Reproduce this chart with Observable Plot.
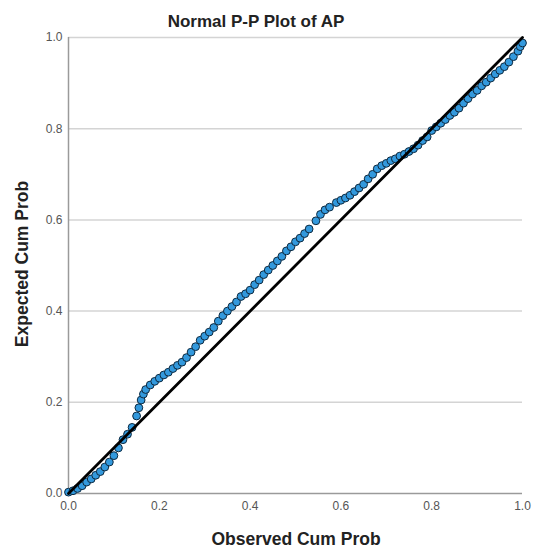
<!DOCTYPE html>
<html><head><meta charset="utf-8">
<script src="https://cdn.jsdelivr.net/npm/d3@7"></script>
<script src="https://cdn.jsdelivr.net/npm/@observablehq/plot@0.6"></script>
<style>body{margin:0;background:#fff;} svg{display:block}</style>
</head><body><div id="chart"></div>
<script>
const titleText = "Normal P-P Plot of AP";
const xLabel = "Observed Cum Prob";
const yLabel = "Expected Cum Prob";
const xTicks = [0, 0.2, 0.4, 0.6, 0.8, 1.0];
const yTicks = [0, 0.2, 0.4, 0.6, 0.8, 1.0];
const refLine = [0, 1];
const observed = [
 0.000,0.010,0.020,0.030,0.040,0.050,0.060,0.070,0.080,0.090,
 0.100,0.110,0.120,0.130,0.140,0.150,0.155,0.160,0.165,0.170,
 0.180,0.190,0.200,0.210,0.220,0.230,0.240,0.250,0.260,0.270,
 0.280,0.290,0.300,0.310,0.320,0.330,0.340,0.350,0.360,0.370,
 0.380,0.390,0.400,0.410,0.420,0.430,0.440,0.450,0.460,0.470,
 0.480,0.490,0.500,0.510,0.520,0.530,0.545,0.555,0.565,0.575,
 0.590,0.600,0.610,0.620,0.630,0.640,0.650,0.660,0.670,0.680,
 0.690,0.700,0.710,0.720,0.730,0.740,0.750,0.760,0.770,0.780,
 0.790,0.800,0.810,0.820,0.830,0.840,0.850,0.860,0.870,0.880,
 0.890,0.900,0.910,0.920,0.930,0.940,0.950,0.960,0.970,0.980,
 0.990,0.995,1.000
];
const expected = [
 0.003,0.006,0.011,0.017,0.025,0.032,0.040,0.048,0.058,0.069,
 0.083,0.100,0.118,0.130,0.145,0.170,0.188,0.205,0.218,0.228,
 0.238,0.246,0.253,0.260,0.266,0.274,0.281,0.288,0.298,0.310,
 0.322,0.336,0.345,0.354,0.364,0.378,0.390,0.400,0.410,0.420,
 0.432,0.438,0.446,0.458,0.468,0.480,0.490,0.500,0.510,0.520,
 0.532,0.541,0.552,0.560,0.570,0.580,0.598,0.612,0.622,0.628,
 0.638,0.643,0.648,0.654,0.662,0.670,0.678,0.690,0.700,0.712,
 0.719,0.724,0.730,0.734,0.740,0.744,0.750,0.756,0.764,0.774,
 0.782,0.796,0.804,0.812,0.820,0.829,0.836,0.845,0.856,0.866,
 0.876,0.884,0.894,0.902,0.911,0.920,0.928,0.936,0.946,0.958,
 0.970,0.980,0.988
];
const points = observed.map((x, i) => ({x, y: expected[i]}));
const diag = refLine.map(v => ({x: v, y: v}));
const fmt = d3.format(".1f");

const plot = Plot.plot({
  width: 535, height: 549,
  marginLeft: 68, marginRight: 13, marginTop: 37, marginBottom: 56,
  style: {fontFamily: "'Liberation Sans', Arial, sans-serif", fontSize: "12px", color: "#555", background: "#fff"},
  x: {domain: [0, 1]},
  y: {domain: [0, 1]},
  marks: [
    Plot.gridY(yTicks.filter(d => d > 0), {stroke: "#d4d4d4", strokeOpacity: 1, strokeWidth: 1.5}),
    Plot.axisY(yTicks, {tickFormat: fmt, tickSize: 0, tickPadding: 6, label: null, fill: "#555"}),
    Plot.axisX(xTicks, {tickFormat: fmt, tickSize: 0, tickPadding: 8, label: null, fill: "#555"}),
    Plot.ruleX([0], {stroke: "#9a9a9a", strokeWidth: 1.5}),
    Plot.ruleY([0], {stroke: "#9a9a9a", strokeWidth: 1.5}),
    Plot.dot(points, {x: "x", y: "y", r: 3.9, fill: "#3399dd", stroke: "#0e2a40", strokeWidth: 1}),
    Plot.line(diag, {x: "x", y: "y", stroke: "#000", strokeWidth: 2.8})
  ]
});
document.getElementById("chart").appendChild(plot);
const svg = d3.select(plot);
const ff = "'Liberation Sans', Arial, sans-serif";
svg.append("text").attr("x", 256).attr("y", 27).attr("text-anchor", "middle")
  .attr("font-family", ff).attr("font-size", 17).attr("font-weight", "bold").attr("fill", "#222").text(titleText);
svg.append("text").attr("x", 296).attr("y", 545).attr("text-anchor", "middle")
  .attr("font-family", ff).attr("font-size", 17.5).attr("font-weight", "bold").attr("fill", "#222").text(xLabel);
svg.append("text").attr("transform", "translate(28,264) rotate(-90)").attr("text-anchor", "middle")
  .attr("font-family", ff).attr("font-size", 17.5).attr("font-weight", "bold").attr("fill", "#222").text(yLabel);
</script>
</body></html>
